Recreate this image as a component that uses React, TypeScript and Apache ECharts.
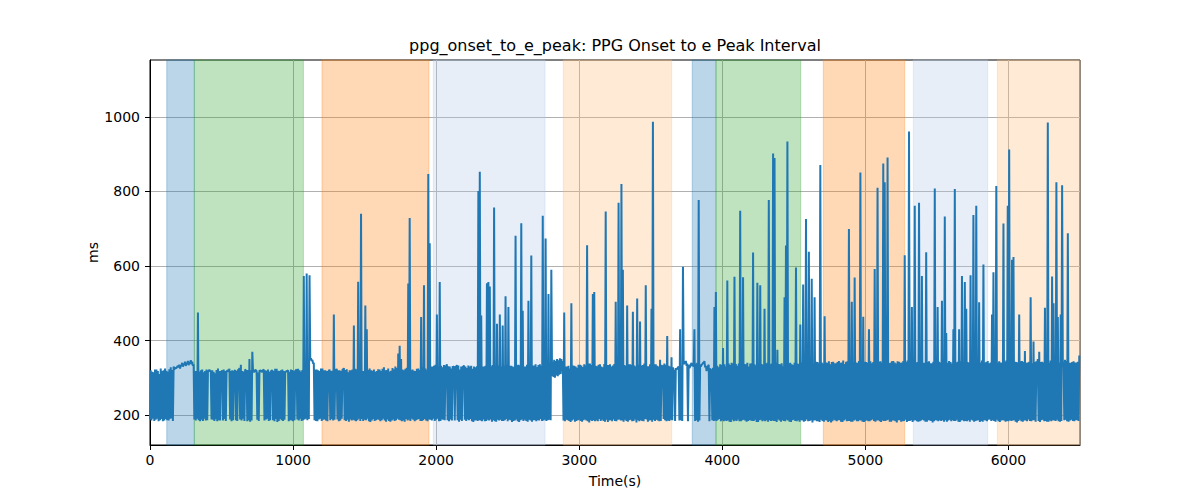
import React, { useEffect, useRef } from "react";
import * as echarts from "echarts";

const TITLE = "ppg_onset_to_e_peak: PPG Onset to e Peak Interval";
const X_LABEL = "Time(s)";
const Y_LABEL = "ms";
const X_TICKS = [0, 1000, 2000, 3000, 4000, 5000, 6000];
const Y_TICKS = [200, 400, 600, 800, 1000];
const X_MIN = 0;
const X_MAX = 6500;
const Y_MIN = 119.5;
const Y_MAX = 1153;

// each 10 s slot holds two beats: a low-phase beat at t and a high-phase beat at t + 5
const T_START = 0;
const T_STEP = 10;
const T_HALF = 5;

// low-phase beat values (ms)
const LOWS = [
  188, 185, 190, 184, 187, 190, 183, 186, 189, 183,
  185, 189, 186, 185, 190, 191, 184, 322, 326, 330,
  328, 325, 333, 330, 336, 332, 338, 334, 340, 336,
  332, 188, 185, 190, 186, 183, 187, 184, 190, 185,
  186, 318, 316, 188, 187, 184, 189, 183, 186, 185,
  316, 185, 189, 184, 318, 316, 188, 183, 186, 317,
  186, 184, 320, 188, 185, 190, 184, 318, 183, 186,
  182, 185, 318, 316, 320, 187, 184, 318, 315, 320,
  185, 188, 190, 184, 186, 318, 186, 183, 189, 181,
  184, 189, 186, 184, 187, 316, 318, 183, 186, 185,
  183, 186, 320, 188, 185, 190, 184, 186, 188, 190,
  186, 189, 348, 345, 338, 186, 184, 183, 188, 190,
  184, 187, 188, 185, 183, 318, 186, 189, 185, 187,
  320, 188, 183, 185, 190, 322, 186, 184, 187, 182,
  188, 185, 187, 185, 183, 186, 190, 184, 189, 184,
  187, 186, 190, 183, 181, 185, 189, 184, 186, 188,
  187, 183, 186, 190, 185, 182, 188, 184, 182, 185,
  188, 184, 186, 190, 187, 186, 183, 185, 182, 189,
  185, 187, 184, 190, 187, 183, 186, 188, 189, 184,
  184, 186, 189, 185, 183, 188, 187, 185, 190, 184,
  187, 190, 183, 184, 188, 187, 186, 330, 186, 183,
  188, 185, 328, 185, 330, 186, 182, 187, 184, 330,
  187, 184, 188, 186, 189, 183, 181, 185, 186, 184,
  186, 185, 183, 188, 183, 184, 187, 185, 188, 182,
  186, 183, 182, 187, 185, 187, 184, 184, 186, 189,
  183, 187, 186, 181, 184, 185, 188, 183, 181, 186,
  188, 184, 187, 184, 182, 187, 185, 182, 186, 186,
  183, 186, 185, 189, 184, 185, 187, 184, 186, 187,
  186, 305, 302, 300, 306, 304, 308, 310, 318, 185,
  183, 187, 186, 184, 181, 185, 188, 182, 184, 186,
  187, 184, 182, 186, 188, 185, 183, 180, 186, 184,
  186, 183, 185, 183, 189, 184, 187, 184, 182, 187,
  181, 185, 186, 183, 188, 184, 183, 187, 188, 185,
  185, 182, 187, 184, 182, 186, 187, 183, 184, 188,
  180, 186, 183, 186, 184, 183, 189, 188, 182, 185,
  186, 182, 187, 184, 187, 185, 183, 184, 330, 189,
  186, 183, 185, 184, 187, 186, 318, 184, 322, 328,
  185, 186, 184, 336, 340, 332, 183, 326, 336, 332,
  330, 184, 186, 182, 185, 330, 336, 340, 328, 318,
  330, 183, 320, 186, 184, 185, 184, 187, 189, 183,
  186, 183, 185, 184, 186, 182, 181, 187, 183, 185,
  184, 188, 183, 183, 186, 187, 185, 182, 184, 186,
  185, 184, 184, 187, 181, 181, 186, 187, 183, 185,
  183, 186, 182, 186, 184, 185, 184, 184, 181, 188,
  185, 182, 186, 184, 183, 187, 185, 182, 181, 186,
  187, 184, 183, 186, 182, 186, 185, 182, 184, 188,
  183, 184, 186, 180, 185, 186, 183, 183, 181, 187,
  184, 182, 186, 185, 181, 184, 180, 183, 187, 185,
  183, 186, 186, 182, 181, 185, 188, 183, 184, 184,
  182, 182, 185, 187, 183, 183, 186, 185, 182, 181,
  184, 186, 183, 183, 186, 188, 184, 182, 185, 186,
  183, 181, 185, 184, 184, 186, 187, 182, 182, 185,
  185, 183, 180, 186, 186, 182, 183, 184, 187, 181,
  184, 184, 186, 181, 185, 186, 183, 182, 183, 185,
  187, 185, 182, 182, 186, 185, 184, 180, 183, 186,
  185, 183, 186, 184, 186, 182, 186, 182, 185, 187,
  183, 186, 184, 184, 187, 182, 181, 185, 186, 183,
  184, 183, 186, 182, 187, 185, 182, 184, 185, 186,
  181, 184, 182, 186, 185, 183, 187, 188, 184, 186,
  184, 182, 187, 183, 181, 185, 186, 185, 182, 184,
  183, 186, 184, 185, 186, 182, 180, 184, 187, 183,
  182, 185, 185, 183, 188, 184, 183, 186, 186, 182,
  330, 184, 181, 186, 187, 183, 184, 182, 182, 185,
  183, 186, 185, 184, 187, 183, 182, 184, 330, 186,
  187, 183, 182, 185, 187, 184, 183, 186, 186, 184,
];

// high-phase beat values (ms), including the spikes
const HIGHS = [
  320, 316, 315, 322, 322, 318, 310, 325, 318, 320,
  325, 319, 316, 323, 328, 321, 330, 326, 326, 332,
  335, 332, 340, 336, 343, 338, 345, 340, 347, 343,
  336, 318, 318, 475, 316, 320, 322, 315, 318, 322,
  318, 322, 320, 320, 316, 312, 321, 325, 318, 317,
  320, 322, 318, 318, 321, 324, 318, 320, 315, 321,
  319, 322, 326, 335, 318, 317, 323, 320, 321, 350,
  320, 370, 316, 321, 318, 314, 320, 320, 317, 322,
  320, 319, 322, 316, 318, 321, 318, 324, 324, 319,
  318, 320, 322, 318, 315, 318, 320, 316, 322, 321,
  318, 318, 322, 324, 320, 317, 321, 573, 319, 580,
  322, 575, 352, 348, 340, 322, 322, 320, 318, 325,
  325, 320, 320, 318, 316, 322, 319, 319, 470, 322,
  324, 320, 320, 318, 322, 326, 321, 323, 315, 320,
  320, 322, 440, 324, 322, 558, 330, 740, 318, 318,
  494, 430, 321, 325, 320, 319, 322, 316, 318, 323,
  322, 318, 324, 328, 320, 321, 325, 317, 319, 326,
  323, 330, 326, 365, 386, 350, 322, 320, 324, 327,
  553, 729, 320, 322, 319, 318, 324, 325, 321, 463,
  328, 548, 325, 320, 847, 661, 330, 330, 332, 335,
  470, 330, 557, 332, 328, 334, 332, 336, 331, 330,
  325, 331, 331, 329, 334, 333, 322, 330, 329, 333,
  330, 326, 333, 330, 332, 324, 330, 328, 331, 801,
  853, 467, 330, 330, 332, 554, 557, 545, 331, 334,
  757, 331, 445, 333, 470, 330, 440, 332, 519, 335,
  490, 332, 332, 330, 328, 681, 334, 335, 333, 715,
  480, 330, 330, 335, 507, 331, 628, 333, 333, 336,
  329, 334, 336, 332, 735, 338, 674, 336, 525, 340,
  590, 342, 348, 345, 350, 347, 352, 350, 345, 475,
  330, 330, 332, 325, 500, 333, 332, 330, 327, 335,
  335, 333, 329, 336, 333, 656, 338, 338, 334, 525,
  530, 332, 331, 335, 336, 330, 328, 337, 746, 334,
  334, 336, 330, 333, 337, 504, 335, 770, 338, 820,
  590, 334, 332, 494, 336, 336, 335, 477, 333, 330,
  513, 335, 451, 333, 334, 338, 548, 331, 331, 336,
  485, 987, 336, 336, 332, 330, 348, 334, 333, 338,
  335, 412, 332, 330, 355, 328, 320, 326, 325, 330,
  430, 332, 598, 340, 345, 338, 335, 330, 340, 336,
  430, 338, 340, 777, 335, 335, 340, 345, 332, 330,
  335, 325, 322, 327, 490, 530, 332, 328, 336, 335,
  380, 336, 330, 561, 338, 334, 340, 338, 571, 337,
  332, 338, 748, 335, 570, 337, 336, 340, 330, 338,
  339, 636, 336, 333, 555, 339, 548, 337, 335, 485,
  338, 340, 777, 336, 338, 902, 890, 340, 375, 337,
  336, 339, 331, 516, 655, 934, 338, 340, 336, 334,
  340, 596, 338, 337, 443, 341, 550, 339, 726, 342,
  638, 340, 566, 338, 516, 343, 342, 339, 871, 341,
  338, 465, 341, 340, 344, 336, 342, 343, 339, 339,
  342, 345, 340, 341, 346, 337, 343, 344, 699, 340,
  504, 342, 569, 341, 340, 345, 851, 338, 464, 343,
  342, 340, 430, 344, 339, 342, 592, 341, 810, 343,
  344, 340, 875, 825, 342, 891, 339, 340, 344, 345,
  341, 338, 344, 343, 340, 341, 345, 629, 342, 346,
  961, 340, 490, 343, 762, 341, 342, 770, 344, 573,
  340, 340, 637, 342, 344, 339, 339, 343, 808, 341,
  490, 343, 341, 507, 345, 733, 420, 340, 345, 342,
  338, 430, 807, 341, 343, 430, 344, 573, 340, 557,
  485, 342, 340, 575, 344, 737, 339, 762, 343, 503,
  341, 346, 604, 340, 342, 345, 339, 341, 470, 583,
  342, 815, 340, 344, 341, 340, 714, 343, 346, 762,
  913, 340, 617, 624, 343, 342, 341, 470, 344, 345,
  342, 372, 340, 341, 343, 516, 339, 397, 342, 344,
  350, 370, 342, 343, 341, 488, 345, 985, 340, 346,
  572, 500, 341, 825, 463, 340, 470, 817, 343, 348,
  345, 688, 340, 340, 342, 344, 341, 341, 343, 360,
];

// shaded segments (seconds)
const BAND_STARTS = [117, 310, 1202, 1980, 2889, 3790, 3956, 4706, 5335, 5922];
const BAND_ENDS = [310, 1072, 1950, 2761, 3646, 3956, 4548, 5275, 5855, 6500];
const BAND_COLORS = [
  "rgba(31,119,180,0.3)",
  "rgba(44,160,44,0.3)",
  "rgba(255,127,14,0.3)",
  "rgba(174,199,232,0.3)",
  "rgba(255,187,120,0.3)",
  "rgba(31,119,180,0.3)",
  "rgba(44,160,44,0.3)",
  "rgba(255,127,14,0.3)",
  "rgba(174,199,232,0.3)",
  "rgba(255,187,120,0.3)",
];

const FONT = "DejaVu Sans";

export default function App() {
  const ref = useRef<HTMLDivElement>(null);

  useEffect(() => {
    if (!ref.current) return;
    const chart = echarts.init(ref.current, null, { renderer: "svg" });

    const lineData: number[][] = [];
    LOWS.forEach((lo, i) => {
      const t = T_START + i * T_STEP;
      lineData.push([t, lo]);
      lineData.push([t + T_HALF, HIGHS[i]]);
    });

    const bands = BAND_STARTS.map((s, i) => [
      {
        xAxis: s,
        itemStyle: {
          color: BAND_COLORS[i],
          borderColor: BAND_COLORS[i],
          borderWidth: 1,
        },
      },
      { xAxis: BAND_ENDS[i] },
    ]);

    const plain = (v: number) => String(v);

    const axisCommon = {
      type: "value" as const,
      nameLocation: "middle" as const,
      nameMoveOverlap: false,
      nameTextStyle: { color: "#000", fontSize: 14, fontFamily: FONT },
      axisLine: { show: true, onZero: false, lineStyle: { color: "#000", width: 1 } },
      splitLine: { show: true, lineStyle: { color: "#b0b0b0", width: 1 } },
    };

    chart.setOption({
      animation: false,
      backgroundColor: "#ffffff",
      title: {
        text: TITLE,
        left: 615,
        top: 37,
        textAlign: "center",
        padding: 0,
        textStyle: { color: "#000", fontSize: 16, fontWeight: "normal", fontFamily: FONT },
      },
      grid: {
        left: 150,
        right: 120,
        top: 60,
        bottom: 55,
        show: true,
        borderColor: "#000",
        borderWidth: 1,
        backgroundColor: "transparent",
      },
      xAxis: {
        ...axisCommon,
        min: X_MIN,
        max: X_MAX,
        name: X_LABEL,
        nameGap: 29,
        axisTick: { show: true, inside: false, length: 5, customValues: X_TICKS, lineStyle: { color: "#000" } },
        axisLabel: { customValues: X_TICKS, formatter: plain, margin: 8, color: "#000", fontSize: 14, fontFamily: FONT },
      },
      yAxis: {
        ...axisCommon,
        min: Y_MIN,
        max: Y_MAX,
        name: Y_LABEL,
        nameGap: 50,
        axisTick: { show: true, inside: false, length: 5, customValues: Y_TICKS, lineStyle: { color: "#000" } },
        axisLabel: { customValues: Y_TICKS, formatter: plain, margin: 10, color: "#000", fontSize: 14, fontFamily: FONT },
      },
      series: [
        {
          type: "line",
          z: -1,
          data: [],
          silent: true,
          markArea: { silent: true, data: bands },
        },
        {
          type: "line",
          z: 2,
          data: lineData,
          symbol: "none",
          showSymbol: false,
          silent: true,
          lineStyle: { color: "#1f77b4", width: 2 },
          itemStyle: { color: "#1f77b4" },
        },
      ],
    });

    return () => chart.dispose();
  }, []);

  return (
    <div
      ref={ref}
      style={{ position: "absolute", left: 0, top: 0, width: 1200, height: 500, background: "#fff" }}
    />
  );
}
